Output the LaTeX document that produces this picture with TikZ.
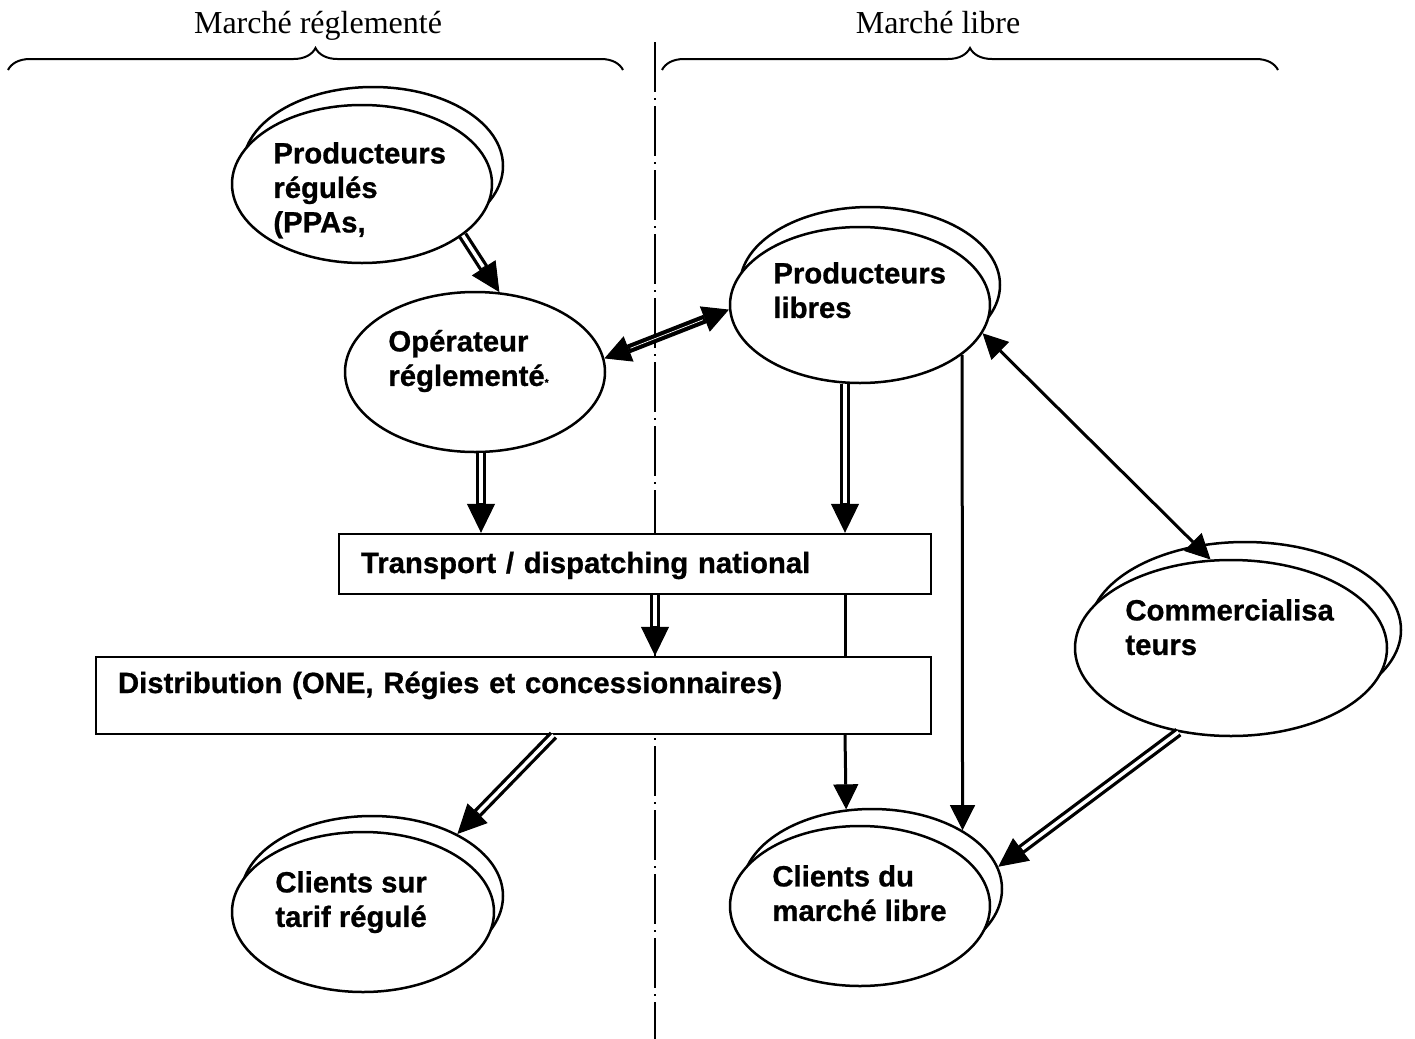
\documentclass[tikz,border=0pt]{standalone}
\usepackage{fontspec}
\setmainfont{Liberation Serif}
\setsansfont{Liberation Sans}[BoldFeatures={FakeBold=0.8}]
\usetikzlibrary{shapes.geometric,arrows.meta,decorations.pathreplacing}

\newcommand{\topline}{\rule{0pt}{14pt}}

\tikzset{
	ell/.style={ellipse, draw, line width=1.25pt, fill=white, inner sep=0pt},
	txt/.style={anchor=north west, inner sep=0pt, align=left, font=\sffamily\bfseries\fontsize{14.65}{17.25}\selectfont},
	boxnode/.style={rectangle, draw, line width=1.2pt, fill=white, inner xsep=11pt, inner ysep=0pt, align=left, font=\sffamily\bfseries\fontsize{14.65}{17.25}\selectfont},
	dbl/.style={line width=5pt, -{Triangle[length=14.5pt,width=14pt,line width=0.5pt]}, postaction={draw=white, line width=1.75pt, arrows=-, shorten >=15pt}},
	bidir/.style={line width=4.5pt, {Triangle[length=13pt,width=13.5pt,line width=0.5pt]}-{Triangle[length=13pt,width=13.5pt,line width=0.5pt]}, postaction={draw=white, line width=0.35pt, arrows=-, shorten >=14pt, shorten <=14pt}},
	sgl/.style={line width=1.5pt, -{Triangle[length=12.5pt,width=12.5pt,line width=0.5pt]}},
	sglboth/.style={line width=1.5pt, {Triangle[length=12.5pt,width=12.5pt,line width=0.5pt]}-{Triangle[length=12.5pt,width=12.5pt,line width=0.5pt]}},
	brc/.style={decorate, decoration={brace, amplitude=11pt}, line width=1pt},
	vline/.style={line width=0.75pt, dash pattern=on 25pt off 3pt on 1pt off 3pt}
}

\begin{document}
\begin{tikzpicture}[x=0.5pt, y=-0.5pt]
	\useasboundingbox (0,0) rectangle (1415,1039);

	% Markets
	\coordinate (vtop) at (655,42);
	\coordinate (vbot) at (655,1039);
	\draw[vline] (vtop) -- (vbot);
	\node[anchor=base, font=\fontsize{16}{19}\selectfont] (reglbl) at (318,33) {Marché réglementé};
	\node[anchor=base, font=\fontsize{16}{19}\selectfont] (liblbl) at (938,33) {Marché libre};
	\draw[brc] (8,70) -- (623,70);
	\draw[brc] (662,70) -- (1278,70);

	% Nodes
	\node[ell, minimum width=130pt, minimum height=79pt] (prodregB) at (373,166) {};
	\node[ell, minimum width=130pt, minimum height=79pt] (prodreg) at (362,184) {};
	\node[ell, minimum width=130pt, minimum height=80pt] (opreg) at (475,372) {};
	\node[ell, minimum width=130pt, minimum height=78pt] (prodlibB) at (870,285) {};
	\node[ell, minimum width=130pt, minimum height=78pt] (prodlib) at (860,305) {};
	\node[ell, minimum width=156pt, minimum height=88pt] (commB) at (1245,630) {};
	\node[ell, minimum width=156pt, minimum height=88pt] (comm) at (1231,648) {};
	\node[ell, minimum width=131pt, minimum height=80pt] (cltarifB) at (372,896) {};
	\node[ell, minimum width=131pt, minimum height=80pt] (cltarif) at (363,912) {};
	\node[ell, minimum width=130pt, minimum height=80pt] (cllibB) at (872,889) {};
	\node[ell, minimum width=130pt, minimum height=80pt] (cllib) at (860,906) {};

	\node[txt] (prodregT) at (273,135) {\topline Producteurs\\régulés\\(PPAs,};
	\node[txt] (opregT) at (388,323) {\topline Opérateur\\réglementé{\fontsize{5}{5}\selectfont *}};
	\node[txt] (prodlibT) at (773,255) {\topline Producteurs\\libres};
	\node[txt] (commT) at (1125,592) {\topline Commercialisa\\teurs};
	\node[txt] (cltarifT) at (275,864) {\topline Clients sur\\tarif régulé};
	\node[txt] (cllibT) at (772,858) {\topline Clients du\\marché libre};

	\node[boxnode, text width=274pt, text height=19.5pt, text depth=10.5pt] (transport) at (635,564) {Transport / dispatching national};
	\node[boxnode, text width=395.5pt, text height=18pt, text depth=20.5pt] (distrib) at (513.5,695.5) {Distribution (ONE, Régies et concessionnaires)};

	% Flows
	\coordinate (opout) at ([xshift=3pt]opreg.south);
	\coordinate (libout) at ([xshift=-7.5pt]prodlib.south);
	\coordinate (distout) at ([xshift=20pt]distrib.south);
	\draw[dbl] (prodreg.-27) -- (opreg.73);
	\draw[bidir] (opreg.6) -- (prodlib.182);
	\draw[dbl] (opout) -- (opout |- transport.north);
	\draw[dbl] (libout) -- (libout |- transport.north);
	\draw[dbl] (transport.south -| vtop) -- (distrib.north -| vtop);
	\draw[line width=1.5pt] (transport.south -| libout) -- (distrib.north -| libout);
	\draw[sgl] (distrib.south -| libout) -- (cllibB.108);
	\draw[sgl] (prodlib.-26) -- (cllibB.33);
	\draw[sglboth] (prodlib.-13) -- (comm.103);
	\draw[dbl] (comm.-122) -- (cllibB.10);
	\draw[dbl] (distout) -- (cltarifB.36);
\end{tikzpicture}
\end{document}
